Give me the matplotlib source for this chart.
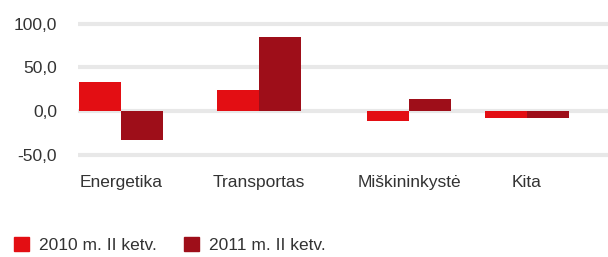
import matplotlib.pyplot as plt
from matplotlib.patches import Patch

plt.rcParams['font.family'] = ['Liberation Sans', 'DejaVu Sans']

categories = ['Energetika', 'Transportas', 'Miškininkystė', 'Kita']
values_2010 = [33, 24, -12, -8]
values_2011 = [-33, 85, 14, -8]
series_names = ['2010 m. II ketv.', '2011 m. II ketv.']
yticks = [-50, 0, 50, 100]
ytick_labels = ['-50,0', '0,0', '50,0', '100,0']

# layout (pixel-like x units, chart has uneven group spacing)
centers = [121, 259, 409, 527]
width = 42
c2010 = '#e30e13'
c2011 = '#9e0e19'
txt = '#333333'
fs = 12.5


def main():
    fig = plt.figure(figsize=(6.08, 2.57), dpi=100)
    ax = fig.add_axes([78 / 608, 1 - 165 / 257, 530 / 608, 150 / 257])

    for y in yticks:
        ax.axhline(y, color='#e8e8e8', lw=3, zorder=0)

    ax.bar([c - width / 2 for c in centers], values_2010, width,
           color=c2010, zorder=2)
    ax.bar([c + width / 2 for c in centers], values_2011, width,
           color=c2011, zorder=2)

    ax.set_xlim(78, 608)
    ax.set_ylim(-61.9, 110)
    ax.set_yticks(yticks)
    ax.set_yticklabels(ytick_labels)
    ax.set_xticks(centers)
    ax.set_xticklabels(categories)
    ax.tick_params(length=0, labelsize=fs, colors=txt)
    ax.tick_params(axis='y', pad=15)
    ax.tick_params(axis='x', pad=7)
    for s in ax.spines.values():
        s.set_visible(False)

    handles = [Patch(color=c2010), Patch(color=c2011)]
    fig.legend(handles, series_names, loc='lower left',
               bbox_to_anchor=(0.023, 0.014), ncol=2, frameon=False,
               fontsize=fs, labelcolor=txt, handlelength=0.86,
               handleheight=0.86, handletextpad=0.57, columnspacing=1.6,
               borderpad=0, borderaxespad=0)

    fig.savefig('out.png', dpi=100)


if __name__ == '__main__':
    main()
